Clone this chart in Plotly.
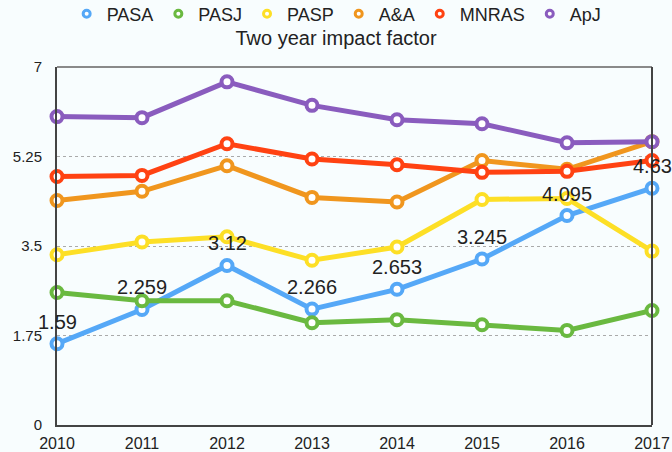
import plotly.graph_objects as go

years = [2010, 2011, 2012, 2013, 2014, 2015, 2016, 2017]
series_names = ["PASA", "PASJ", "PASP", "A&A", "MNRAS", "ApJ"]
pasa = [1.59, 2.259, 3.12, 2.266, 2.653, 3.245, 4.095, 4.63]
pasj = [2.59, 2.43, 2.43, 2.00, 2.06, 1.96, 1.85, 2.24]
pasp = [3.33, 3.58, 3.68, 3.22, 3.48, 4.41, 4.43, 3.40]
aa = [4.39, 4.57, 5.07, 4.45, 4.36, 5.17, 5.00, 5.54]
mnras = [4.86, 4.88, 5.50, 5.20, 5.09, 4.94, 4.96, 5.17]
apj = [6.03, 6.01, 6.71, 6.25, 5.97, 5.89, 5.52, 5.54]
pasa_labels = ["1.59", "2.259", "3.12", "2.266", "2.653", "3.245", "4.095", "4.63"]
y_ticks = [0, 1.75, 3.5, 5.25, 7]
y_tick_text = ["0", "1.75", "3.5", "5.25", "7"]
title_text = "Two year impact factor"

colors = ["#55a8f7", "#6ab940", "#fddf26", "#f0961e", "#ff4212", "#8a5cbe"]
values = [pasa, pasj, pasp, aa, mnras, apj]

fig = go.Figure()
for name, vals, col in zip(series_names, values, colors):
    fig.add_trace(go.Scatter(
        x=years, y=vals, mode="lines+markers", name=name, showlegend=False,
        line=dict(color=col, width=5),
        marker=dict(size=11, color="white", line=dict(color=col, width=4)),
        cliponaxis=False,
    ))
for name, col in zip(series_names, colors):
    fig.add_trace(go.Scatter(
        x=[None], y=[None], mode="markers", name=name,
        marker=dict(size=7, color="white", line=dict(color=col, width=3)),
    ))

for x, y, t in zip(years, pasa, pasa_labels):
    fig.add_annotation(x=x, y=y, text=t, showarrow=False, yshift=22,
                       font=dict(size=20, color="#222", family="Liberation Sans, Arial"))

fig.add_shape(type="line", xref="paper", yref="paper", x0=0, x1=1, y0=1, y1=1,
              line=dict(color="#8a8a8a", width=2))
fig.add_shape(type="line", xref="paper", yref="paper", x0=1, x1=1, y0=0, y1=1,
              line=dict(color="#444", width=2))

fig.update_layout(
    width=672, height=452,
    margin=dict(l=57, r=20, t=67, b=27),
    paper_bgcolor="#f8fdfe", plot_bgcolor="#f8fdfe",
    font=dict(family="Liberation Sans, Arial", color="#222"),
    title=dict(text=title_text, x=0.5, xanchor="center", y=1 - 38 / 452, yanchor="middle",
               font=dict(size=20, color="#222"), automargin=False),
    legend=dict(orientation="h", x=0.47, xanchor="center", y=1 - 14 / 452, yref="container",
                yanchor="middle", font=dict(size=18, color="#222"), bgcolor="rgba(0,0,0,0)"),
    xaxis=dict(range=[2010, 2017], tickvals=years, ticktext=[str(y) for y in years],
               showgrid=False, zeroline=False, showline=True, linecolor="#444", linewidth=2,
               ticks="outside", ticklen=3, tickcolor="rgba(0,0,0,0)", automargin=False,
               tickfont=dict(size=16, color="#222")),
    yaxis=dict(range=[0, 7], tickvals=y_ticks, ticktext=y_tick_text,
               showgrid=True, gridcolor="#aaaaaa", griddash="dot", gridwidth=1,
               zeroline=False, showline=True, linecolor="#444", linewidth=2,
               ticks="outside", ticklen=10, tickcolor="rgba(0,0,0,0)", automargin=False,
               tickfont=dict(size=15, color="#222")),
)

fig.write_html("out.html")
